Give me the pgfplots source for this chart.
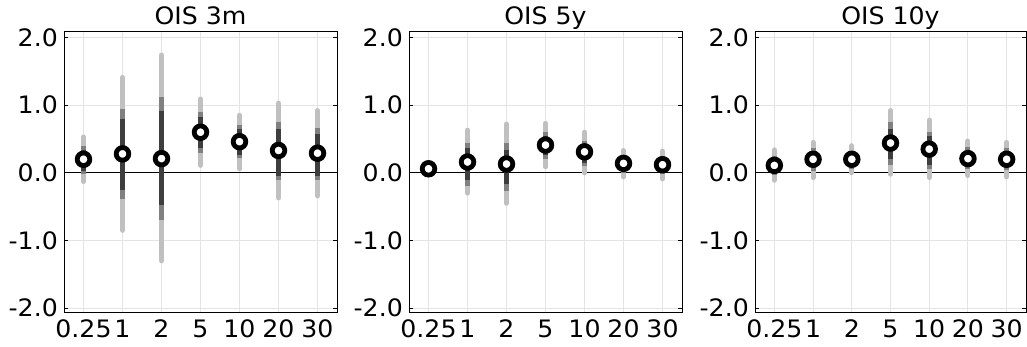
\documentclass[border=0pt]{standalone}
\usepackage{pgfplots}
\pgfplotsset{compat=1.18}
\usepackage{pgfplotstable}
\usepackage{fontspec}
\setmainfont{DejaVu Sans}[FakeStretch=1.05]
\definecolor{lightg}{RGB}{192,192,192}
\definecolor{midg}{RGB}{128,128,128}
\definecolor{darkg}{RGB}{62,62,62}
\definecolor{gridc}{RGB}{228,228,228}

% x m l1 h1 (light) l2 h2 (medium) l3 h3 (dark)
\pgfplotstableread{
x m l1 h1 l2 h2 l3 h3
1 0.20 -0.13 0.53 -0.02 0.40 0.03 0.33
2 0.28 -0.85 1.41 -0.39 0.95 -0.25 0.80
3 0.21 -1.30 1.74 -0.70 1.12 -0.48 0.91
4 0.60 0.11 1.09 0.30 0.90 0.37 0.83
5 0.46 0.06 0.85 0.22 0.71 0.27 0.65
6 0.33 -0.37 1.03 -0.10 0.75 -0.05 0.65
7 0.29 -0.34 0.92 -0.10 0.66 -0.05 0.57
}\tabA
\pgfplotstableread{
x m l1 h1 l2 h2 l3 h3
1 0.06 0.01 0.11 0.03 0.09 0.04 0.08
2 0.16 -0.30 0.63 -0.19 0.44 -0.10 0.37
3 0.13 -0.45 0.72 -0.27 0.44 -0.17 0.34
4 0.41 0.09 0.73 0.20 0.60 0.27 0.55
5 0.31 0.00 0.60 0.10 0.47 0.15 0.42
6 0.14 -0.06 0.33 0.00 0.26 0.04 0.22
7 0.12 -0.09 0.32 -0.02 0.25 0.03 0.21
}\tabB
\pgfplotstableread{
x m l1 h1 l2 h2 l3 h3
1 0.11 -0.11 0.34 -0.03 0.25 0.02 0.20
2 0.20 -0.07 0.45 0.03 0.36 0.08 0.31
3 0.20 0.00 0.40 0.06 0.32 0.10 0.28
4 0.44 -0.02 0.92 0.12 0.75 0.20 0.65
5 0.35 -0.07 0.78 0.05 0.60 0.12 0.55
6 0.21 -0.04 0.47 0.05 0.38 0.10 0.32
7 0.20 -0.06 0.45 0.04 0.36 0.09 0.31
}\tabC

\pgfplotsset{
  panel/.style={
    scale only axis, height=281pt,
    anchor=south west,
    xmin=0.5, xmax=7.5, ymin=-2.07, ymax=2.08,
    xtick={1,2,3,4,5,6,7}, xticklabels={0.25,1,2,5,10,20,30},
    ytick={-2,-1,0,1,2}, yticklabels={-2.0,-1.0,0.0,1.0,2.0},
    grid=major, major grid style={draw=gridc, line width=1pt},
    axis line style={black, line width=1pt},
    tick align=inside, tick pos=both, major tick length=4pt,
    ytick style={black, line width=0.8pt},
    xtick style={draw=none},
    ticklabel style={font=\fontsize{24}{24}\selectfont},
    yticklabel style={anchor=east, inner sep=0pt, xshift=-6pt},
    xticklabel style={anchor=base, inner sep=0pt, yshift=-25pt},
    title style={font=\fontsize{24}{24}\selectfont, anchor=base, at={(0.5,1)}, yshift=1pt, inner sep=0pt},
  },
}

\newcommand{\bands}[1]{%
  \addplot[black, line width=1pt, forget plot] coordinates {(0.5,0) (7.5,0)};
  \addplot[only marks, mark=none, error bars/.cd, y dir=both, y explicit, error mark=none,
    error bar style={draw=lightg, line width=5pt, line cap=round}]
    table[x=x, y=m, y error plus expr=\thisrow{h1}-\thisrow{m}, y error minus expr=\thisrow{m}-\thisrow{l1}] {#1};
  \addplot[only marks, mark=none, error bars/.cd, y dir=both, y explicit, error mark=none,
    error bar style={draw=midg, line width=5pt, line cap=butt}]
    table[x=x, y=m, y error plus expr=\thisrow{h2}-\thisrow{m}, y error minus expr=\thisrow{m}-\thisrow{l2}] {#1};
  \addplot[only marks, mark=none, error bars/.cd, y dir=both, y explicit, error mark=none,
    error bar style={draw=darkg, line width=5pt, line cap=butt}]
    table[x=x, y=m, y error plus expr=\thisrow{h3}-\thisrow{m}, y error minus expr=\thisrow{m}-\thisrow{l3}] {#1};
  \addplot[only marks, mark=*, mark size=6.3pt, mark options={draw=black, fill=white, line width=4.8pt}]
    table[x=x, y=m] {#1};
}

\begin{document}
\begin{tikzpicture}
\begin{axis}[panel, width=273pt, at={(64pt,34pt)}, title={OIS 3m}]
\bands{\tabA}
\end{axis}
\begin{axis}[panel, width=273pt, at={(409pt,34pt)}, title={OIS 5y}]
\bands{\tabB}
\end{axis}
\begin{axis}[panel, width=271pt, at={(755pt,34pt)}, title={OIS 10y}]
\bands{\tabC}
\end{axis}
\pgfresetboundingbox
\useasboundingbox (0,0) rectangle (1027pt,347pt);
\end{tikzpicture}
\end{document}
